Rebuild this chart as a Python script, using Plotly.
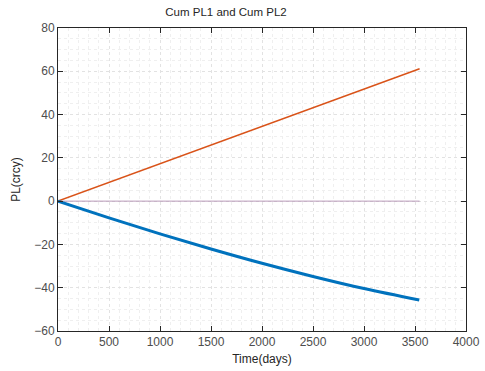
import plotly.graph_objects as go

# Data
days_pl1 = [0, 3545]
cum_pl1 = [0, 61.2]
days_pl2 = [0, 500, 1000, 1500, 2000, 2500, 3000, 3542]
cum_pl2 = [0, -7.7, -15.1, -22.1, -28.7, -34.8, -40.4, -45.7]
days_zero = [0, 3545]
zero_line = [0, 0]

x_ticks = [0, 500, 1000, 1500, 2000, 2500, 3000, 3500, 4000]
y_ticks = [-60, -40, -20, 0, 20, 40, 60, 80]

FONT = "Liberation Sans, Arial, sans-serif"

fig = go.Figure()
fig.add_trace(go.Scatter(x=days_zero, y=zero_line, mode="lines",
                         line=dict(color="#b89ab8", width=1), showlegend=False))
fig.add_trace(go.Scatter(x=days_pl1, y=cum_pl1, mode="lines",
                         line=dict(color="#D95319", width=1.5), showlegend=False))
fig.add_trace(go.Scatter(x=days_pl2, y=cum_pl2, mode="lines", line_shape="spline",
                         line=dict(color="#0072BD", width=3), showlegend=False))

axis_common = dict(
    showline=True, linecolor="#262626", linewidth=1, mirror="ticks",
    ticks="inside", ticklen=5, tickcolor="#262626",
    showgrid=True, gridcolor="#e2e2e2", griddash="dot", gridwidth=1,
    zeroline=False, automargin=False,
    tickfont=dict(family=FONT, size=12, color="#4d4d4d"),
)

fig.update_xaxes(range=[0, 4000], tickvals=x_ticks,
                 minor=dict(dtick=100, showgrid=True, gridcolor="#efefef", griddash="dot"),
                 title=dict(text="Time(days)", standoff=6,
                            font=dict(family=FONT, size=12, color="#262626")),
                 **axis_common)
fig.update_yaxes(range=[-60, 80], tickvals=y_ticks,
                 minor=dict(dtick=5, showgrid=True, gridcolor="#efefef", griddash="dot"),
                 title=dict(text="PL(crcy)", standoff=11,
                            font=dict(family=FONT, size=12, color="#262626")),
                 **axis_common)

fig.update_layout(
    width=485, height=371,
    margin=dict(l=58, r=19, t=28, b=40, autoexpand=False),
    paper_bgcolor="white", plot_bgcolor="white",
    title=dict(text="Cum PL1 and Cum PL2", x=226/485, xanchor="center", y=1 - 12/371, yanchor="middle",
               font=dict(family=FONT, size=11.5, color="#262626"), automargin=False),
)

fig.write_html("out.html", include_plotlyjs=True, config={"displayModeBar": False},
               post_script="document.body.style.margin='0';document.body.style.overflow='hidden';")
